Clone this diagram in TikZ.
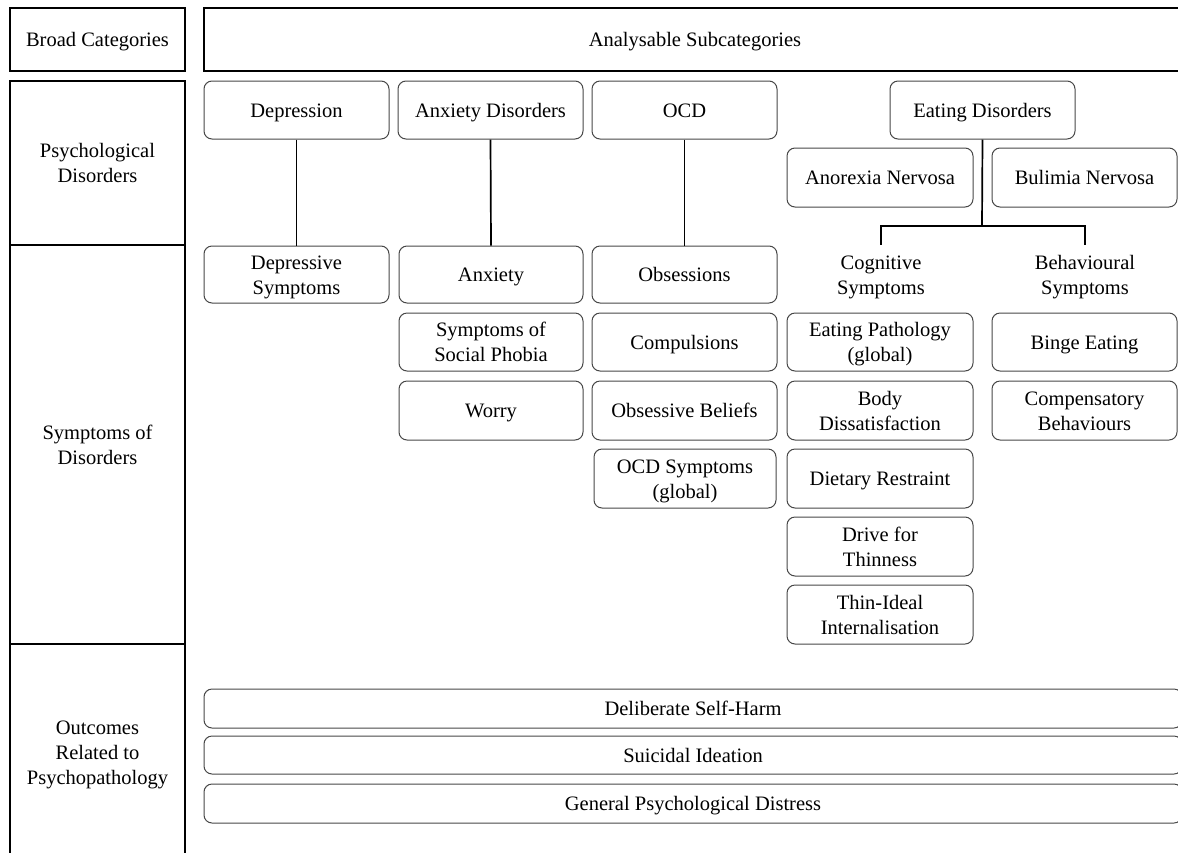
\documentclass[tikz,border=0pt]{standalone}
\usepackage{fontspec}
\setmainfont{Liberation Serif}
\tikzset{
  base/.style={font=\fontsize{20.5}{25}\selectfont, align=center, inner sep=0pt, text=black, rectangle},
  cat/.style={base, draw=black, line width=1.8pt},
  rbox/.style={base, draw=black!72, line width=1pt, rounded corners=8pt},
  conn/.style={draw=black, line width=1.7pt},
  txt/.style={base, yshift=-2pt},
}
\newcommand\mybox[7]{%
  \node[#1, minimum width={(#5-#3)*1pt}, minimum height={(#6-#4)*1pt},
        label={[txt]center:{\strut#7\strut}}] (#2)
    at ({(#3+#5)/2},{(#4+#6)/2}) {};}
\begin{document}
\begin{tikzpicture}[x=1pt,y=-1pt]
\useasboundingbox (0,0) rectangle (1178,852);
\clip (0,0) rectangle (1178,852);
% left column
\mybox{cat}{bc}{10}{8}{185}{71}{Broad Categories}
\mybox{cat}{pd}{10}{81}{185}{245}{Psychological\\Disorders}
\mybox{cat}{sd}{10}{245}{185}{644}{Symptoms of\\Disorders}
\mybox{cat}{op}{10}{644}{185}{860}{Outcomes\\Related to\\Psychopathology}
\mybox{cat}{as}{204}{8}{1186}{71}{Analysable Subcategories}
% row 1
\mybox{rbox}{dep}{204}{81}{389}{139}{Depression}
\mybox{rbox}{anxd}{398}{81}{583}{139}{Anxiety Disorders}
\mybox{rbox}{ocd}{592}{81}{777}{139}{OCD}
\mybox{rbox}{ed}{890}{81}{1075}{139}{Eating Disorders}
\mybox{rbox}{an}{787}{148}{973}{207}{Anorexia Nervosa}
\mybox{rbox}{bn}{992}{148}{1177}{207}{Bulimia Nervosa}
% row 2
\mybox{rbox}{depsym}{204}{246}{389}{303}{Depressive\\Symptoms}
\mybox{rbox}{anx}{399}{246}{583}{303}{Anxiety}
\mybox{rbox}{obs}{592}{246}{777}{303}{Obsessions}
\node[base, minimum height=60pt, label={[txt]center:{\strut Cognitive\\Symptoms\strut}}] (cog) at (881,275) {};
\node[base, minimum height=60pt, label={[txt]center:{\strut Behavioural\\Symptoms\strut}}] (beh) at (1085,275) {};
% row 3
\mybox{rbox}{ssp}{399}{313}{583}{371}{Symptoms of\\Social Phobia}
\mybox{rbox}{comp}{592}{313}{777}{371}{Compulsions}
\mybox{rbox}{epg}{787}{313}{973}{371}{Eating Pathology\\(global)}
\mybox{rbox}{binge}{992}{313}{1177}{371}{Binge Eating}
% row 4
\mybox{rbox}{worry}{399}{381}{583}{440}{Worry}
\mybox{rbox}{ob}{592}{381}{777}{440}{Obsessive Beliefs}
\mybox{rbox}{bd}{787}{381}{973}{440}{Body\\Dissatisfaction}
\mybox{rbox}{cb}{992}{381}{1177}{440}{Compensatory\\Behaviours}
% rows 5-7
\mybox{rbox}{ocdg}{594}{449}{776}{508}{OCD Symptoms\\(global)}
\mybox{rbox}{dr}{787}{449}{973}{508}{Dietary Restraint}
\mybox{rbox}{dft}{787}{517}{973}{576}{Drive for\\Thinness}
\mybox{rbox}{tii}{787}{585}{973}{644}{Thin-Ideal\\Internalisation}
% outcomes
\mybox{rbox}{dsh}{204}{689}{1182}{728}{Deliberate Self-Harm}
\mybox{rbox}{si}{204}{736}{1182}{774}{Suicidal Ideation}
\mybox{rbox}{gpd}{204}{784}{1182}{823}{General Psychological Distress}
% connectors
\draw[conn] (dep.south) -- (depsym.north);
\draw[conn] (anxd.south) -- (anx.north);
\draw[conn] (ocd.south) -- (obs.north);
\coordinate (edj) at (982,226);
\draw[conn] (ed.south) -- (edj);
\draw[conn] (cog.north) |- (edj) -| (beh.north);
\end{tikzpicture}
\end{document}
